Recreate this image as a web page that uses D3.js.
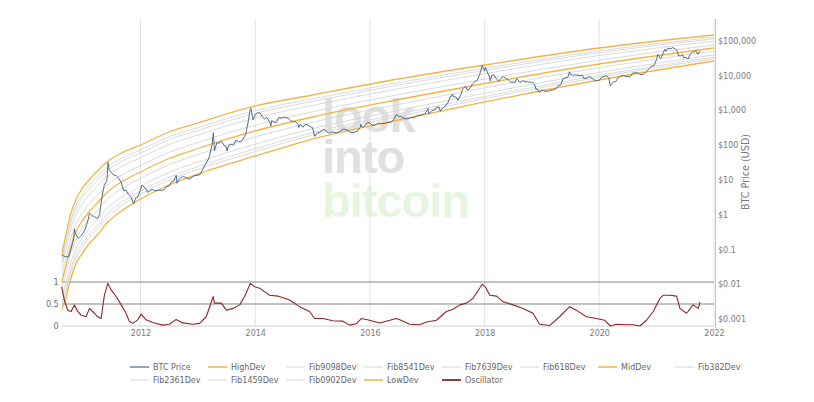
<!DOCTYPE html>
<html><head><meta charset="utf-8">
<script src="https://cdn.jsdelivr.net/npm/d3@7"></script>
<style>
body{margin:0;background:#fff}
svg{display:block}
text{font-family:"DejaVu Sans",Verdana,sans-serif}
text.wm{font-family:"Liberation Sans",Arial,sans-serif;font-weight:bold}
</style>
</head><body>
<svg id="chart" width="814" height="402"></svg>
<script>
// ---------------- DATA ----------------
const yearTicks = ["2012-01-01","2014-01-01","2016-01-01","2018-01-01","2020-01-01","2022-01-01"];
const priceTicks = [0.001,0.01,0.1,1,10,100,1000,10000,100000];
const oscTicks = [0,0.5,1];

const bandDates = ["2010-08-17","2010-09-15","2010-10-15","2010-11-15","2010-12-15","2011-02-01","2011-04-01","2011-06-01","2011-09-01","2012-01-01","2012-07-01","2013-01-01","2014-01-01","2015-01-01","2016-07-01","2018-01-01","2020-01-01","2022-01-01"];
const highDev = [0.0695,0.298,1.119,2.643,4.797,9.29,18.03,32.66,59.29,100.7,237.7,431.5,1330,2754,7925,20045,61660,145881];
const fib9098 = [0.05005,0.2045,0.7594,1.803,3.254,6.339,12.31,22.70,41.95,72.95,173.2,318.4,987.2,2118,6203,16077,50954,124907];
const fib8541 = [0.04086,0.1621,0.5976,1.425,2.561,5.009,9.721,18.13,33.87,59.79,142.5,263.8,821.0,1800,5335,14029,45280,113501];
const fib7639 = [0.02942,0.1114,0.4055,0.9723,1.738,3.418,6.633,12.59,23.96,43.32,103.8,194.6,609.2,1384,4178,11246,37411,97185];
const fib618  = [0.0173,0.06061,0.2165,0.5243,0.9277,1.843,3.577,6.987,13.68,25.71,62.26,118.9,375.9,905.2,2812,7868,27479,75613];
const midDev  = [0.01126,0.03707,0.1303,0.3181,0.5585,1.118,2.170,4.340,8.700,16.87,41.17,79.89,254.4,642.1,2042,5895,21403,61730];
const fib382  = [0.007326,0.02267,0.07845,0.1930,0.3362,0.6785,1.317,2.695,5.531,11.07,27.22,53.65,172.2,455.2,1483,4417,16681,50405];
const fib2361 = [0.00431,0.01234,0.04188,0.1040,0.1795,0.3658,0.7098,1.496,3.159,6.567,16.32,32.81,106.2,297.7,997.9,3090,12246,39220];
const fib1459 = [0.0031,0.008476,0.02841,0.0710,0.1218,0.2496,0.4845,1.039,2.235,4.757,11.89,24.20,78.83,228.9,781.5,2478,10118,33574];
const fib0902 = [0.002533,0.006718,0.02236,0.05609,0.09583,0.1972,0.3827,0.83,1.805,3.899,9.781,20.05,65.56,194.6,672.0,2162,8993,30505];
const lowDev  = [0.001824,0.004613,0.01518,0.03828,0.06502,0.1346,0.2612,0.5768,1.276,2.825,7.129,14.79,48.64,149.6,526.0,1734,7430,26122];

const btcPrice = [
["2010-08-17",0.07],["2010-09-01",0.064],["2010-09-15",0.062],["2010-10-01",0.062],["2010-10-15",0.10],["2010-11-01",0.20],["2010-11-06",0.39],["2010-11-15",0.27],["2010-12-01",0.21],["2010-12-15",0.24],
["2011-01-01",0.30],["2011-01-15",0.39],["2011-02-01",0.71],["2011-02-10",1.09],["2011-02-15",1.05],["2011-03-01",0.93],["2011-03-15",0.87],["2011-04-01",0.78],["2011-04-15",1.0],["2011-05-01",3.3],["2011-05-15",7.0],["2011-06-01",9.6],["2011-06-08",31.9],["2011-06-15",19.5],["2011-07-01",16.1],["2011-07-15",13.8],["2011-08-01",13.2],["2011-08-15",11.0],["2011-09-01",8.2],["2011-09-15",4.9],["2011-10-01",5.1],["2011-10-15",3.9],["2011-11-01",3.3],["2011-11-18",2.05],["2011-12-01",3.0],["2011-12-15",3.2],
["2012-01-01",5.27],["2012-01-10",7.1],["2012-01-15",6.7],["2012-02-01",5.9],["2012-02-15",4.4],["2012-03-01",4.9],["2012-03-15",5.3],["2012-04-01",4.9],["2012-04-15",4.9],["2012-05-01",5.0],["2012-05-15",5.0],["2012-06-01",5.3],["2012-06-15",6.5],["2012-07-01",6.7],["2012-07-15",8.6],["2012-08-01",9.4],["2012-08-16",13.5],["2012-08-20",8.0],["2012-09-01",10.2],["2012-09-15",11.8],["2012-10-01",12.4],["2012-10-15",11.8],["2012-11-01",10.6],["2012-11-15",11.2],["2012-12-01",12.6],["2012-12-15",13.4],
["2013-01-01",13.5],["2013-01-15",14.5],["2013-02-01",20.5],["2013-02-15",27],["2013-03-01",34],["2013-03-15",47],["2013-04-01",104],["2013-04-09",230],["2013-04-16",68],["2013-05-01",116],["2013-05-15",114],["2013-06-01",129],["2013-06-15",100],["2013-07-01",88],["2013-07-05",68],["2013-07-15",98],["2013-08-01",105],["2013-08-15",99],["2013-09-01",140],["2013-09-15",126],["2013-10-01",124],["2013-10-15",150],["2013-11-01",205],["2013-11-15",417],["2013-11-30",1100],["2013-12-04",1150],["2013-12-18",530],
["2014-01-01",755],["2014-01-15",850],["2014-02-01",832],["2014-02-15",650],["2014-03-01",560],["2014-03-15",630],["2014-04-01",480],["2014-04-11",360],["2014-04-15",500],["2014-05-01",455],["2014-05-15",445],["2014-06-01",630],["2014-06-15",590],["2014-07-01",640],["2014-07-15",620],["2014-08-01",585],["2014-08-15",500],["2014-09-01",475],["2014-09-15",470],["2014-10-01",385],["2014-10-05",320],["2014-10-15",395],["2014-11-01",325],["2014-11-15",400],["2014-12-01",380],["2014-12-15",345],
["2015-01-01",315],["2015-01-14",178],["2015-02-01",226],["2015-02-15",235],["2015-03-01",260],["2015-03-15",285],["2015-04-01",245],["2015-04-15",220],["2015-05-01",233],["2015-05-15",237],["2015-06-01",223],["2015-06-15",236],["2015-07-01",258],["2015-07-15",287],["2015-08-01",281],["2015-08-15",262],["2015-09-01",228],["2015-09-15",229],["2015-10-01",237],["2015-10-15",255],["2015-11-01",325],["2015-11-04",400],["2015-11-15",320],["2015-12-01",362],["2015-12-15",445],
["2016-01-01",434],["2016-01-15",375],["2016-02-01",373],["2016-02-15",404],["2016-03-01",433],["2016-03-15",415],["2016-04-01",416],["2016-04-15",430],["2016-05-01",450],["2016-05-15",455],["2016-06-01",537],["2016-06-17",750],["2016-07-01",675],["2016-07-15",665],["2016-08-01",606],["2016-08-15",570],["2016-09-01",572],["2016-09-15",609],["2016-10-01",615],["2016-10-15",638],["2016-11-01",730],["2016-11-15",712],["2016-12-01",755],["2016-12-15",780],
["2017-01-01",998],["2017-01-05",1130],["2017-01-11",780],["2017-01-15",820],["2017-02-01",990],["2017-02-15",1010],["2017-03-01",1220],["2017-03-15",1250],["2017-03-25",930],["2017-04-01",1090],["2017-04-15",1180],["2017-05-01",1420],["2017-05-15",1750],["2017-05-25",2400],["2017-06-01",2450],["2017-06-11",2950],["2017-06-15",2450],["2017-07-01",2430],["2017-07-16",1930],["2017-08-01",2720],["2017-08-15",4160],["2017-09-01",4900],["2017-09-15",3700],["2017-10-01",4400],["2017-10-15",5680],["2017-11-01",6750],["2017-11-15",7300],["2017-12-01",10900],["2017-12-17",19500],
["2018-01-01",13400],["2018-01-06",17100],["2018-01-15",13600],["2018-02-01",9100],["2018-02-06",6900],["2018-02-15",10100],["2018-03-01",10400],["2018-03-15",8200],["2018-04-01",6900],["2018-04-15",8300],["2018-05-01",9200],["2018-05-15",8500],["2018-06-01",7500],["2018-06-15",6500],["2018-07-01",6400],["2018-07-15",6350],["2018-07-25",8200],["2018-08-01",7600],["2018-08-15",6300],["2018-09-01",7200],["2018-09-15",6500],["2018-10-01",6600],["2018-10-15",6400],["2018-11-01",6350],["2018-11-15",5600],["2018-11-25",3900],["2018-12-01",4200],["2018-12-15",3250],
["2019-01-01",3850],["2019-01-15",3600],["2019-02-01",3500],["2019-02-15",3600],["2019-03-01",3800],["2019-03-15",3900],["2019-04-01",4150],["2019-04-15",5050],["2019-05-01",5350],["2019-05-15",8200],["2019-06-01",8550],["2019-06-15",8900],["2019-06-26",12900],["2019-07-01",10600],["2019-07-15",10200],["2019-08-01",10400],["2019-08-15",10300],["2019-09-01",9800],["2019-09-15",10300],["2019-09-26",8050],["2019-10-01",8300],["2019-10-15",8350],["2019-10-26",9250],["2019-11-01",9250],["2019-11-15",8500],["2019-12-01",7400],["2019-12-15",7100],
["2020-01-01",7200],["2020-01-15",8800],["2020-02-01",9400],["2020-02-15",9900],["2020-03-01",8550],["2020-03-12",4970],["2020-03-15",5400],["2020-04-01",6600],["2020-04-15",6650],["2020-05-01",8800],["2020-05-15",9400],["2020-06-01",10200],["2020-06-15",9450],["2020-07-01",9230],["2020-07-15",9200],["2020-08-01",11800],["2020-08-15",11900],["2020-09-01",11900],["2020-09-15",10800],["2020-10-01",10600],["2020-10-15",11500],["2020-11-01",13800],["2020-11-15",15900],["2020-12-01",18800],["2020-12-15",19300],
["2021-01-01",29400],["2021-01-08",40600],["2021-01-15",36800],["2021-01-27",30400],["2021-02-01",33500],["2021-02-15",48700],["2021-02-21",57500],["2021-03-01",49600],["2021-03-13",61200],["2021-04-01",58800],["2021-04-14",63500],["2021-05-01",57800],["2021-05-12",49400],["2021-05-19",37000],["2021-06-01",36700],["2021-06-15",40200],["2021-06-22",32500],["2021-07-01",33500],["2021-07-20",29800],["2021-08-01",39900],["2021-08-15",47000],["2021-09-01",48800],["2021-09-06",52700],["2021-09-21",40700],["2021-10-01",48100],["2021-10-05",51500]
];

const oscillator = [
["2010-08-17",0.89],["2010-09-03",0.59],["2010-09-24",0.36],["2010-10-16",0.33],["2010-11-06",0.48],["2010-11-27",0.33],["2010-12-18",0.25],["2011-01-19",0.21],["2011-02-10",0.40],["2011-03-13",0.29],["2011-04-03",0.21],["2011-04-25",0.17],["2011-05-16",0.70],["2011-06-07",0.97],["2011-06-28",0.82],["2011-07-30",0.67],["2011-08-31",0.48],["2011-10-01",0.29],["2011-10-22",0.10],["2011-11-13",0.06],["2011-12-14",0.14],
["2012-01-05",0.27],["2012-02-06",0.14],["2012-03-18",0.08],["2012-05-22",0.02],["2012-07-03",0.04],["2012-08-15",0.15],["2012-09-27",0.07],["2012-11-29",0.04],["2013-01-11",0.06],["2013-02-23",0.21],["2013-04-08",0.67],["2013-04-16",0.52],["2013-05-30",0.52],["2013-07-01",0.36],["2013-08-12",0.40],["2013-09-24",0.48],["2013-10-25",0.67],["2013-12-01",0.97],["2013-12-28",0.89],
["2014-01-29",0.86],["2014-04-02",0.70],["2014-05-25",0.68],["2014-08-07",0.59],["2014-10-10",0.44],["2014-12-13",0.33],["2015-01-14",0.17],["2015-03-08",0.17],["2015-05-10",0.12],["2015-07-13",0.11],["2015-08-25",0.02],["2015-10-06",0.05],["2015-11-07",0.17],["2015-12-30",0.13],["2016-03-03",0.07],["2016-06-17",0.17],["2016-07-09",0.14],["2016-09-11",0.04],["2016-11-13",0.03],["2016-12-26",0.09],
["2017-02-28",0.13],["2017-05-02",0.33],["2017-06-14",0.38],["2017-07-27",0.48],["2017-09-07",0.52],["2017-10-19",0.63],["2017-12-17",0.95],["2018-01-05",0.89],["2018-02-03",0.70],["2018-03-18",0.68],["2018-04-29",0.55],["2018-07-01",0.48],["2018-09-02",0.40],["2018-11-05",0.29],["2018-12-17",0.04],["2019-02-19",0.01],["2019-04-23",0.21],["2019-06-26",0.44],["2019-08-08",0.36],["2019-10-11",0.21],["2019-12-13",0.17],
["2020-02-05",0.13],["2020-03-12",0.0],["2020-04-20",0.04],["2020-06-23",0.03],["2020-08-04",0.03],["2020-09-16",0.0],["2020-10-28",0.13],["2020-12-10",0.33],["2021-01-22",0.63],["2021-02-12",0.70],["2021-03-26",0.70],["2021-05-08",0.68],["2021-05-29",0.40],["2021-07-10",0.29],["2021-08-21",0.48],["2021-09-23",0.40],["2021-10-04",0.55]
];

const legendRow1 = ["BTC Price","HighDev","Fib9098Dev","Fib8541Dev","Fib7639Dev","Fib618Dev","MidDev","Fib382Dev"];
const legendRow2 = ["Fib2361Dev","Fib1459Dev","Fib0902Dev","LowDev","Oscillator"];
const watermarkWords = ["look","into","bitcoin"];

// ---------------- DRAW ----------------
const parse = d3.timeParse("%Y-%m-%d");
const svg = d3.select("#chart");
svg.append("rect").attr("width",814).attr("height",402).attr("fill","#fff");

const plotL = 61.7, plotR = 714, plotT = 19, plotB = 326;
const x = d3.scaleTime().domain([parse("2010-08-17"), parse("2022-01-01")]).range([plotL, plotR]);
const y = d3.scaleLog().domain([0.001, 100000]).range([319.1, 40.7]);
const yOsc = d3.scaleLinear().domain([0, 1]).range([326, 282]);

const ORANGE = "#f2b447", FIBGRAY = "#d6d6d6", BLUE = "#4f6d8c", RED = "#8e2626";

// watermark (logo text, lines are tightly stacked as in the reference)
const wmStyle = [{y:132, c:"#e0e0e0"},{y:173, c:"#e0e0e0"},{y:217, c:"#e6f5e0"}];
const wm = svg.append("g");
watermarkWords.forEach((w,i) => {
  wm.append("text").attr("class","wm").attr("x",322).attr("y",wmStyle[i].y)
    .attr("font-size",47).attr("letter-spacing",-1).attr("fill",wmStyle[i].c).text(w);
});

// vertical grid
svg.append("g").selectAll("line").data(yearTicks).join("line")
  .attr("x1", d => x(parse(d))).attr("x2", d => x(parse(d)))
  .attr("y1", plotT).attr("y2", plotB)
  .attr("stroke", "#e4e4e4").attr("stroke-width", 1);

// oscillator horizontal lines
svg.append("g").selectAll("line").data(oscTicks).join("line")
  .attr("x1", plotL).attr("x2", plotR)
  .attr("y1", d => yOsc(d)).attr("y2", d => yOsc(d))
  .attr("stroke", d => d === 0 ? "#d0d0d0" : "#858585").attr("stroke-width", 1);

svg.append("defs").append("clipPath").attr("id","clipAll")
  .append("rect").attr("x",plotL).attr("y",plotT).attr("width",plotR-plotL).attr("height",plotB-plotT+2);

const bandLine = d3.line().x(d => x(d[0])).y(d => y(d[1])).curve(d3.curveMonotoneX);
const bandPts = arr => bandDates.map((d,i) => [parse(d), arr[i]]);

const bands = [
  {v: fib9098, c: FIBGRAY, w: 0.9},
  {v: fib8541, c: FIBGRAY, w: 0.9},
  {v: fib7639, c: FIBGRAY, w: 0.9},
  {v: fib618,  c: FIBGRAY, w: 0.9},
  {v: fib382,  c: FIBGRAY, w: 0.9},
  {v: fib2361, c: FIBGRAY, w: 0.9},
  {v: fib1459, c: FIBGRAY, w: 0.9},
  {v: fib0902, c: FIBGRAY, w: 0.9},
  {v: highDev, c: ORANGE, w: 1.3},
  {v: midDev,  c: ORANGE, w: 1.3},
  {v: lowDev,  c: ORANGE, w: 1.3}
];
const gBands = svg.append("g").attr("clip-path","url(#clipAll)");
bands.forEach(b => {
  gBands.append("path").attr("d", bandLine(bandPts(b.v)))
    .attr("fill","none").attr("stroke",b.c).attr("stroke-width",b.w);
});

// price
const priceLine = d3.line().x(d => x(parse(d[0]))).y(d => y(d[1]));
svg.append("path").attr("d", priceLine(btcPrice))
  .attr("fill","none").attr("stroke",BLUE).attr("stroke-width",1).attr("stroke-linejoin","round");

// oscillator
const oscLine = d3.line().x(d => x(parse(d[0]))).y(d => yOsc(d[1]));
svg.append("path").attr("d", oscLine(oscillator))
  .attr("fill","none").attr("stroke",RED).attr("stroke-width",1.1).attr("stroke-linejoin","round");

// right axis
svg.append("line").attr("x1",715.5).attr("x2",715.5).attr("y1",plotT).attr("y2",328)
  .attr("stroke","#c4c4c4").attr("stroke-width",1);
const ra = svg.append("g").attr("transform","translate(715,0)")
  .call(d3.axisRight(y).tickValues(priceTicks).tickSize(0).tickPadding(3)
    .tickFormat(d => "$" + d3.format(",")(d)));
ra.select(".domain").remove();
ra.selectAll("text").attr("font-size",8).attr("fill","#7a7a7a").attr("font-family","'DejaVu Sans',Verdana,sans-serif");

svg.append("text").attr("transform","translate(749,172) rotate(-90)")
  .attr("text-anchor","middle").attr("font-size",9.6).attr("fill","#7a7a7a").text("BTC Price (USD)");

// bottom axis
const ba = svg.append("g").attr("transform",`translate(0,${plotB})`)
  .call(d3.axisBottom(x).tickValues(yearTicks.map(parse)).tickSize(0).tickPadding(4.5).tickFormat(d3.timeFormat("%Y")));
ba.select(".domain").remove();
ba.selectAll("text").attr("font-size",8).attr("fill","#7a7a7a").attr("font-family","'DejaVu Sans',Verdana,sans-serif");

// oscillator left axis
const la = svg.append("g").attr("transform",`translate(${plotL},0)`)
  .call(d3.axisLeft(yOsc).tickValues(oscTicks).tickSize(0).tickPadding(3).tickFormat(d => String(d)));
la.select(".domain").remove();
la.selectAll("text").attr("font-size",8).attr("fill","#6a6a6a").attr("font-family","'DejaVu Sans',Verdana,sans-serif");

// legend
const legendStyle = {
  "BTC Price": [BLUE,1.2], "HighDev": [ORANGE,1.5], "MidDev": [ORANGE,1.5], "LowDev": [ORANGE,1.5],
  "Oscillator": [RED,1.8]
};
const colX = [153,231,309,387,465,543,621,698];
function drawLegendRow(items, yy) {
  const g = svg.append("g");
  items.forEach((name,i) => {
    const st = legendStyle[name] || [FIBGRAY,1];
    g.append("line").attr("x1",colX[i]-23).attr("x2",colX[i]-4).attr("y1",yy).attr("y2",yy)
      .attr("stroke",st[0]).attr("stroke-width",st[1]);
    g.append("text").attr("x",colX[i]).attr("y",yy).attr("dy","0.35em")
      .attr("font-size",8).attr("fill","#666").text(name);
  });
}
drawLegendRow(legendRow1, 367);
drawLegendRow(legendRow2, 380);
</script>
</body></html>
